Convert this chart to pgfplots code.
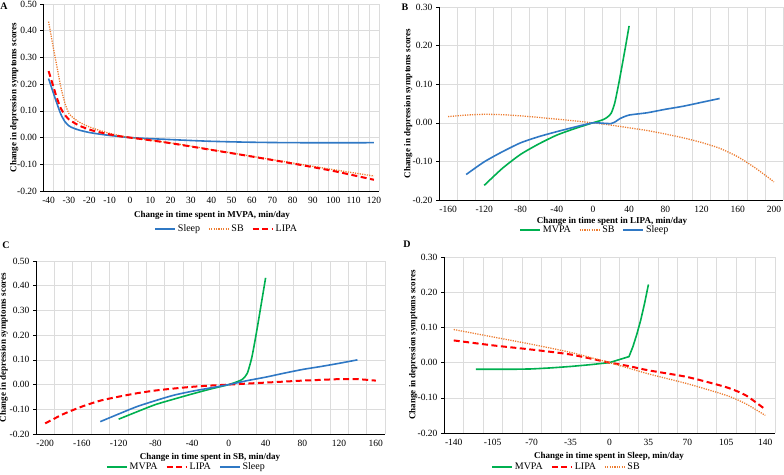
\documentclass[border=0pt]{standalone}
\usepackage{pgfplots}
\pgfplotsset{compat=1.18}
\usepackage{fontspec}
\setmainfont{Liberation Serif}
\definecolor{cblue}{HTML}{2F78C4}
\definecolor{cgreen}{HTML}{00B050}
\definecolor{corange}{HTML}{ED7D31}
\definecolor{cred}{HTML}{FF0000}
\definecolor{cgrid}{HTML}{DCDCDC}
\pgfplotsset{
  panel/.style={
    scale only axis, anchor=south west,
    axis x line*=bottom, axis y line*=left,
    axis line style={-, black, line width=0.9pt},
    ymajorgrids=true, xmajorgrids=false, xminorgrids=true,
    major grid style={cgrid, line width=0.5pt},
    minor grid style={cgrid, line width=0.5pt},
    tick align=outside,
    major tick length=3pt, minor tick length=0pt,
    xtick style={draw=none},
    ytick style={black, line width=0.6pt},
    ticklabel style={font=\fontsize{9.5}{10}\selectfont},
    label style={font=\bfseries\fontsize{9}{10}\selectfont},
    ylabel={Change in depression symptoms scores},
    legend style={draw=none, fill=none, font=\fontsize{10}{11}\selectfont,
      legend columns=-1, anchor=center,
      /tikz/every even column/.append style={column sep=6pt}},
    legend image code/.code={\draw[##1] (0pt,0pt) -- (20pt,0pt);},
  },
  lsleep/.style={cblue, line width=1.6pt, smooth, tension=0.4},
  lmvpa/.style={cgreen, line width=1.6pt, smooth, tension=0.4},
  lsb/.style={corange, line width=1.3pt, dash pattern=on 1.2pt off 1.2pt, smooth, tension=0.4},
  llipa/.style={cred, line width=2pt, dash pattern=on 6pt off 3.5pt, smooth, tension=0.4},
}
\tikzset{xlab/.style={font=\bfseries\fontsize{9}{10}\selectfont, anchor=center}}
\begin{document}
\begin{tikzpicture}
\path[use as bounding box] (0pt,0pt) rectangle (784pt,474pt);
% ---------------- A ----------------
\begin{axis}[panel, ylabel shift=-8pt,
  at={(43.5pt,283pt)}, width=335.5pt, height=187pt,
  xmin=-42.5, xmax=122.5, ymin=-0.2, ymax=0.5,
  xtick={-40,-30,-20,-10,0,10,20,30,40,50,60,70,80,90,100,110,120},
  xticklabels={-40,-30,-20,-10,0,10,20,30,40,50,60,70,80,90,100,110,120},
  minor xtick={-37.5,-32.5,...,122.5},
  ytick={-0.2,-0.1,0,0.1,0.2,0.3,0.4,0.5},
  yticklabels={-0.20,-0.10,0.00,0.10,0.20,0.30,0.40,0.50},
  legend style={at={(axis description cs:0.546,-0.203)}},
]
\addplot[lsleep] coordinates {(-40,0.221) (-38,0.175) (-36,0.13) (-34,0.088) (-32,0.06) (-30,0.044) (-28,0.036) (-25,0.028) (-20,0.019) (-15,0.013) (-10,0.008) (-5,0.004) (0,0) (10,-0.004) (20,-0.0075) (30,-0.011) (40,-0.014) (50,-0.016) (60,-0.0175) (70,-0.0185) (80,-0.019) (90,-0.0195) (100,-0.0195) (110,-0.0195) (120,-0.019)};
\addlegendentry{Sleep}
\addplot[lsb] coordinates {(-40,0.434) (-38,0.35) (-36,0.27) (-34,0.19) (-32,0.13) (-30,0.09) (-28,0.075) (-25,0.058) (-20,0.04) (-15,0.027) (-10,0.016) (-5,0.007) (0,0) (10,-0.01) (20,-0.02) (30,-0.032) (40,-0.045) (60,-0.07) (80,-0.095) (100,-0.12) (120,-0.144)};
\addlegendentry{SB}
\addplot[llipa] coordinates {(-40,0.249) (-38,0.2) (-36,0.15) (-34,0.11) (-32,0.085) (-30,0.068) (-28,0.058) (-25,0.045) (-20,0.03) (-15,0.02) (-10,0.012) (-5,0.005) (0,0) (10,-0.01) (20,-0.021) (40,-0.046) (60,-0.071) (80,-0.097) (100,-0.125) (120,-0.158)};
\addlegendentry{LIPA}
\end{axis}
% ---------------- B ----------------
\begin{axis}[panel, ylabel shift=-6.5pt,
  at={(439pt,274pt)}, width=344pt, height=193pt,
  xmin=-170, xmax=210, ymin=-0.2, ymax=0.3,
  xtick={-160,-120,-80,-40,0,40,80,120,160,200},
  xticklabels={-160,-120,-80,-40,0,40,80,120,160,200},
  minor xtick={-150,-130,...,210},
  ytick={-0.2,-0.1,0,0.1,0.2,0.3},
  yticklabels={-0.20,-0.10,0.00,0.10,0.20,0.30},
  legend style={at={(axis description cs:0.453,-0.155)}},
]
\addplot[lmvpa] coordinates {(-120,-0.162) (-100,-0.118) (-80,-0.082) (-60,-0.055) (-40,-0.032) (-20,-0.015) (0,0) (10,0.007) (15,0.013) (20,0.024) (24,0.05) (28,0.095) (32,0.145) (36,0.197) (40,0.251)};
\addlegendentry{MVPA}
\addplot[lsb] coordinates {(-160,0.016) (-140,0.02) (-120,0.022) (-100,0.021) (-80,0.018) (-60,0.014) (-40,0.0095) (-20,0.005) (0,0) (20,-0.006) (40,-0.013) (60,-0.02) (80,-0.029) (100,-0.039) (120,-0.051) (140,-0.066) (160,-0.088) (180,-0.118) (200,-0.153)};
\addlegendentry{SB}
\addplot[lsleep] coordinates {(-140,-0.134) (-120,-0.101) (-100,-0.075) (-80,-0.052) (-60,-0.036) (-40,-0.023) (-20,-0.011) (0,0) (10,-0.001) (20,-0.002) (25,0.003) (30,0.011) (40,0.02) (60,0.026) (80,0.035) (100,0.043) (120,0.053) (140,0.063)};
\addlegendentry{Sleep}
\end{axis}
% ---------------- C ----------------
\begin{axis}[panel, ylabel shift=-5pt,
  at={(36pt,40pt)}, width=349pt, height=173pt,
  xmin=-210, xmax=170, ymin=-0.2, ymax=0.5,
  xtick={-200,-160,-120,-80,-40,0,40,80,120,160},
  xticklabels={-200,-160,-120,-80,-40,0,40,80,120,160},
  minor xtick={-190,-170,...,170},
  ytick={-0.2,-0.1,0,0.1,0.2,0.3,0.4,0.5},
  yticklabels={-0.20,-0.10,0.00,0.10,0.20,0.30,0.40,0.50},
  legend style={at={(axis description cs:0.431,-0.191)}},
]
\addplot[lmvpa] coordinates {(-120,-0.14) (-100,-0.11) (-80,-0.081) (-60,-0.059) (-40,-0.038) (-20,-0.018) (0,0) (10,0.013) (15,0.022) (20,0.045) (25,0.11) (30,0.21) (35,0.32) (40,0.432)};
\addlegendentry{MVPA}
\addplot[llipa] coordinates {(-200,-0.157) (-180,-0.119) (-160,-0.089) (-140,-0.065) (-120,-0.049) (-100,-0.035) (-80,-0.024) (-60,-0.016) (-40,-0.009) (-20,-0.004) (0,0) (20,0.004) (40,0.008) (60,0.012) (80,0.016) (100,0.019) (120,0.022) (140,0.022) (160,0.016)};
\addlegendentry{LIPA}
\addplot[lsleep] coordinates {(-140,-0.15) (-120,-0.119) (-100,-0.089) (-80,-0.065) (-60,-0.043) (-40,-0.027) (-20,-0.0135) (0,0) (20,0.016) (40,0.03) (60,0.046) (80,0.061) (100,0.073) (120,0.086) (140,0.1)};
\addlegendentry{Sleep}
\end{axis}
% ---------------- D ----------------
\begin{axis}[panel, ylabel shift=-6.5pt,
  at={(444pt,41pt)}, width=331pt, height=176pt,
  xmin=-148.75, xmax=148.75, ymin=-0.2, ymax=0.3,
  xtick={-140,-105,-70,-35,0,35,70,105,140},
  xticklabels={-140,-105,-70,-35,0,35,70,105,140},
  minor xtick={-131.25,-113.75,...,148.75},
  ytick={-0.2,-0.1,0,0.1,0.2,0.3},
  yticklabels={-0.20,-0.10,0.00,0.10,0.20,0.30},
  legend style={at={(axis description cs:0.37,-0.193)}},
]
\addplot[cgreen, line width=1.6pt] coordinates {(-120,-0.019) (-105,-0.019) (-87.5,-0.019) (-70,-0.018) (-52.5,-0.015) (-35,-0.011) (-17.5,-0.006) (0,0) (17.5,0.017) (21,0.045) (24.5,0.08) (28,0.12) (31.5,0.168) (35,0.222)};
\addlegendentry{MVPA}
\addplot[llipa] coordinates {(-140,0.063) (-105,0.049) (-70,0.037) (-35,0.023) (0,0) (17.5,-0.01) (35,-0.022) (70,-0.041) (105,-0.07) (122.5,-0.093) (140,-0.133)};
\addlegendentry{LIPA}
\addplot[lsb] coordinates {(-140,0.094) (-105,0.073) (-70,0.052) (-35,0.029) (0,0) (35,-0.032) (70,-0.06) (105,-0.093) (122.5,-0.117) (140,-0.15)};
\addlegendentry{SB}
\end{axis}
\node[xlab] at (212pt,259pt) {Change in time spent in MVPA, min/day};
\node[xlab] at (612pt,253pt) {Change in time spent in LIPA, min/day};
\node[xlab] at (210pt,17pt) {Change in time spent in SB, min/day};
\node[xlab] at (609pt,18pt) {Change in time spent in Sleep, min/day};
\node[font=\bfseries\fontsize{10}{12}\selectfont] at (4pt,468pt) {A};
\node[font=\bfseries\fontsize{10}{12}\selectfont] at (405pt,467pt) {B};
\node[font=\bfseries\fontsize{10}{12}\selectfont] at (6pt,229pt) {C};
\node[font=\bfseries\fontsize{10}{12}\selectfont] at (407pt,230pt) {D};
\end{tikzpicture}
\end{document}
